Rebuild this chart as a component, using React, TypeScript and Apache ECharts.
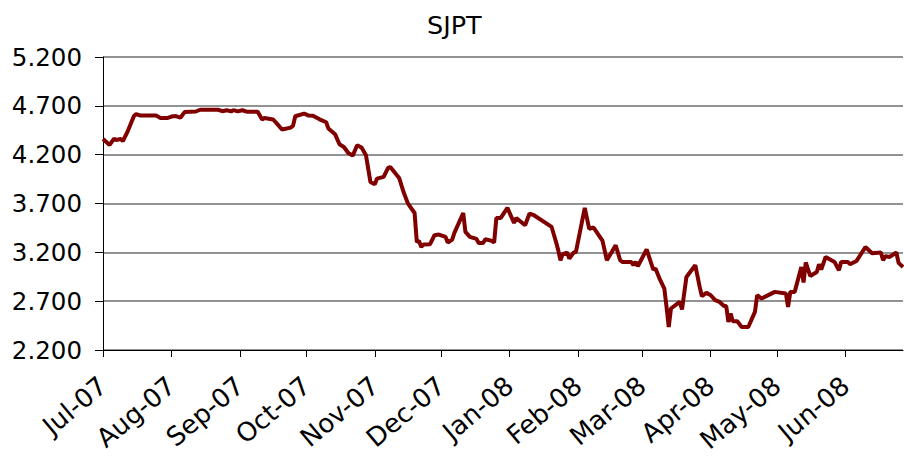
import React, { useEffect, useRef } from "react";
import * as echarts from "echarts";

const title = "SJPT";

const dates: string[] = [
  "2007-07-01", "2007-07-04", "2007-07-06", "2007-07-07", "2007-07-09", "2007-07-10", "2007-07-12",
  "2007-07-15", "2007-07-16", "2007-07-18", "2007-07-25", "2007-07-27", "2007-07-30",
  "2007-08-01", "2007-08-03", "2007-08-05", "2007-08-07", "2007-08-12", "2007-08-14", "2007-08-22",
  "2007-08-24", "2007-08-26", "2007-08-28", "2007-08-29", "2007-08-31",
  "2007-09-02", "2007-09-04", "2007-09-09", "2007-09-11", "2007-09-12", "2007-09-16", "2007-09-18",
  "2007-09-20", "2007-09-24", "2007-09-25", "2007-09-26", "2007-09-30",
  "2007-10-02", "2007-10-04", "2007-10-07", "2007-10-10", "2007-10-11", "2007-10-14", "2007-10-16",
  "2007-10-18", "2007-10-20", "2007-10-22", "2007-10-24", "2007-10-26", "2007-10-28", "2007-10-30",
  "2007-11-01", "2007-11-02", "2007-11-05", "2007-11-07", "2007-11-08", "2007-11-10", "2007-11-12",
  "2007-11-14", "2007-11-16", "2007-11-19", "2007-11-20", "2007-11-21", "2007-11-22", "2007-11-23",
  "2007-11-26", "2007-11-28", "2007-11-30",
  "2007-12-03", "2007-12-04", "2007-12-06", "2007-12-07", "2007-12-11", "2007-12-12", "2007-12-14",
  "2007-12-17", "2007-12-18", "2007-12-20", "2007-12-21", "2007-12-24", "2007-12-25", "2007-12-26",
  "2007-12-28", "2007-12-31",
  "2008-01-03", "2008-01-04", "2008-01-08", "2008-01-10", "2008-01-12", "2008-01-20", "2008-01-22",
  "2008-01-23", "2008-01-24", "2008-01-25", "2008-01-27", "2008-01-28", "2008-01-30", "2008-01-31",
  "2008-02-04", "2008-02-06", "2008-02-08", "2008-02-12", "2008-02-14", "2008-02-18", "2008-02-20",
  "2008-02-21", "2008-02-25", "2008-02-26", "2008-02-27", "2008-02-28",
  "2008-03-03", "2008-03-05", "2008-03-06", "2008-03-07", "2008-03-09", "2008-03-11", "2008-03-12",
  "2008-03-13", "2008-03-14", "2008-03-18", "2008-03-19", "2008-03-21", "2008-03-25", "2008-03-27",
  "2008-03-28", "2008-03-30",
  "2008-04-01", "2008-04-03", "2008-04-05", "2008-04-07", "2008-04-08", "2008-04-09", "2008-04-10",
  "2008-04-11", "2008-04-13", "2008-04-15", "2008-04-18", "2008-04-21", "2008-04-22", "2008-04-24",
  "2008-04-30",
  "2008-05-05", "2008-05-06", "2008-05-07", "2008-05-09", "2008-05-12", "2008-05-13", "2008-05-14",
  "2008-05-16", "2008-05-19", "2008-05-20", "2008-05-21", "2008-05-23", "2008-05-27", "2008-05-29",
  "2008-05-30",
  "2008-06-02", "2008-06-03", "2008-06-06", "2008-06-10", "2008-06-13", "2008-06-17", "2008-06-18",
  "2008-06-19", "2008-06-21", "2008-06-24", "2008-06-25", "2008-06-27",
];

const values: number[] = [
  4.36, 4.3, 4.365, 4.35, 4.36, 4.34, 4.43,
  4.596, 4.615, 4.6, 4.6, 4.575, 4.575,
  4.59, 4.595, 4.578, 4.638, 4.642, 4.66, 4.66,
  4.645, 4.655, 4.643, 4.656, 4.643,
  4.655, 4.64, 4.64, 4.56, 4.575, 4.56, 4.51,
  4.458, 4.477, 4.497, 4.593, 4.621,
  4.6, 4.598, 4.562, 4.532, 4.467, 4.41, 4.306,
  4.279, 4.217, 4.19, 4.296, 4.273, 4.194, 3.921,
  3.897, 3.955, 3.972, 4.064, 4.074, 4.017, 3.962,
  3.818, 3.699, 3.603, 3.306, 3.317, 3.255, 3.28,
  3.283, 3.375, 3.382,
  3.358, 3.3, 3.331, 3.399, 3.603, 3.409, 3.358,
  3.337, 3.296, 3.296, 3.334, 3.317, 3.3, 3.552,
  3.552, 3.655,
  3.501, 3.552, 3.477, 3.597, 3.58, 3.46, 3.306,
  3.222, 3.119, 3.181, 3.198, 3.137, 3.198, 3.204,
  3.655, 3.44, 3.454, 3.32, 3.119, 3.273, 3.119,
  3.102, 3.102, 3.068, 3.102, 3.058,
  3.229, 3.092, 3.024, 3.034, 2.922, 2.829, 2.641,
  2.436, 2.625, 2.692, 2.615, 2.948, 3.068, 2.846,
  2.751, 2.785,
  2.761, 2.71, 2.692, 2.651, 2.651, 2.488, 2.574,
  2.495, 2.495, 2.436, 2.436, 2.59, 2.761, 2.727,
  2.795,
  2.778, 2.641, 2.795, 2.795, 3.05, 2.891, 3.096,
  2.958, 2.999, 3.078, 3.024, 3.153, 3.102, 3.017,
  3.102,
  3.102, 3.078, 3.112, 3.255, 3.19, 3.198, 3.119,
  3.16, 3.153, 3.198, 3.092, 3.05,
];

const monthTicks: string[] = [
  "2007-07-01", "2007-08-01", "2007-09-01", "2007-10-01", "2007-11-01", "2007-12-01",
  "2008-01-01", "2008-02-01", "2008-03-01", "2008-04-01", "2008-05-01", "2008-06-01",
];
const monthLabels: string[] = [
  "Jul-07", "Aug-07", "Sep-07", "Oct-07", "Nov-07", "Dec-07",
  "Jan-08", "Feb-08", "Mar-08", "Apr-08", "May-08", "Jun-08",
];

const xStart = "2007-07-01";
const xEnd = "2008-06-27";
const yMin = 2.2;
const yMax = 5.2;
const yStep = 0.5;

const ts = (s: string) => {
  const [y, m, d] = s.split("-").map(Number);
  return Date.UTC(y, m - 1, d);
};

export default function App() {
  const ref = useRef<HTMLDivElement>(null);
  useEffect(() => {
    if (!ref.current) return;
    const chart = echarts.init(ref.current, null, { renderer: "svg" });
    const tickVals = monthTicks.map(ts);
    const labelMap = new Map<number, string>();
    tickVals.forEach((t, i) => labelMap.set(t, monthLabels[i]));
    const font = "DejaVu Sans";
    chart.setOption({
      animation: false,
      backgroundColor: "#ffffff",
      title: {
        text: title,
        left: 427,
        top: 12,
        padding: 0,
        textStyle: { fontFamily: font, fontSize: 25.5, fontWeight: "normal", color: "#000" },
      },
      grid: {
        left: 103,
        right: 1,
        top: 57,
        bottom: 108,
        containLabel: false,
        outerBoundsMode: "none",
      },
      xAxis: {
        type: "value",
        min: ts(xStart),
        max: ts(xEnd),
        splitLine: { show: false },
        axisLine: { show: true, onZero: false, lineStyle: { color: "#000", width: 1 } },
        axisTick: { show: true, customValues: tickVals, length: 7, lineStyle: { color: "#000" } },
        axisLabel: {
          customValues: tickVals,
          rotate: 40,
          margin: 32,
          fontFamily: font,
          fontSize: 26,
          color: "#000",
          hideOverlap: false,
          formatter: (v: number) => labelMap.get(v) ?? "",
        },
      },
      yAxis: {
        type: "value",
        min: yMin,
        max: yMax,
        interval: yStep,
        axisLine: { show: true, lineStyle: { color: "#000", width: 1 } },
        axisTick: { show: true, length: 8, lineStyle: { color: "#000" } },
        splitLine: { show: true, lineStyle: { color: "#6e6e6e", width: 1.5 } },
        axisLabel: {
          margin: 21,
          fontFamily: font,
          fontSize: 24.5,
          color: "#000",
          formatter: (v: number) => v.toFixed(3),
        },
      },
      series: [
        {
          type: "line",
          data: dates.map((d, i) => [ts(d), values[i]]),
          showSymbol: false,
          lineStyle: { color: "#800000", width: 4 },
          itemStyle: { color: "#800000" },
        },
      ],
    });
    return () => chart.dispose();
  }, []);
  return (
    <div
      ref={ref}
      style={{ position: "fixed", left: 0, top: 0, width: 904, height: 458, background: "#fff" }}
    />
  );
}
